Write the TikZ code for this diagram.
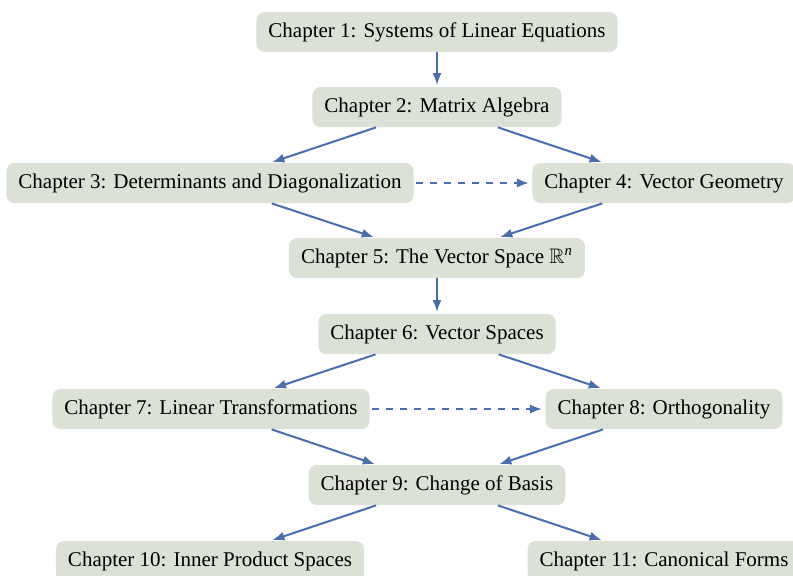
\documentclass[tikz,border=0pt]{standalone}
\usepackage{amsmath}
\usepackage{amssymb}
\usepackage{xcolor}
\usepackage{fontspec}
\setmainfont{Liberation Serif}
\usetikzlibrary{arrows.meta}
\definecolor{chapterfill}{HTML}{DCE1D6}
\definecolor{linkaccent}{HTML}{4A6EAD}
\tikzset{
  chapter/.style={
    rectangle,
    rounded corners=4pt,
    minimum height=20pt,
    inner xsep=6pt,
    inner ysep=0pt,
    fill=chapterfill,
    font=\fontsize{10.5}{12.6}\selectfont,
  },
  link/.style={
    -{Latex[length=6pt,width=4.6pt]},
    draw=linkaccent,
    line width=1pt,
    shorten >=0.8pt,
  },
  optional link/.style={
    link,
    dash pattern=on 3.5pt off 3.5pt,
    shorten <=1pt,
    shorten >=1.6pt,
  },
}

\begin{document}
\begin{tikzpicture}[x=0.5pt,y=-0.5pt]
  \useasboundingbox (0,0) rectangle (793,575);

  % Chapters, one row after another.
  \node[chapter] (ch1) at (437, 32) {Chapter 1: Systems of Linear Equations};
  \node[chapter] (ch2) at (437,107) {Chapter 2: Matrix Algebra};
  \node[chapter] (ch3) at (210,183) {Chapter 3: Determinants and Diagonalization};
  \node[chapter] (ch4) at (664,183) {Chapter 4: Vector Geometry};
  \node[chapter] (ch5) at (437,258) {Chapter 5: The Vector Space $\mathbb{R}^{\textit{n}}$};
  \node[chapter] (ch6) at (437,334) {Chapter 6: Vector Spaces};
  \node[chapter] (ch7) at (211,409) {Chapter 7: Linear Transformations};
  \node[chapter] (ch8) at (664,409) {Chapter 8: Orthogonality};
  \node[chapter] (ch9) at (437,485) {Chapter 9: Change of Basis};
  \node[chapter] (ch10) at (210,561) {Chapter 10: Inner Product Spaces};
  \node[chapter] (ch11) at (664,561) {Chapter 11: Canonical Forms};

  % Prerequisites.
  \draw[link] (ch1) -- (ch2);
  \foreach \src/\dst in {ch2/ch3,ch2/ch4,ch3/ch5,ch4/ch5,ch5/ch6,
                         ch6/ch7,ch6/ch8,ch7/ch9,ch8/ch9,ch9/ch10,ch9/ch11}{
    \draw[link] (\src) -- (\dst);
  }

  % Recommended but not required.
  \draw[optional link] (ch3) -- (ch4);
  \draw[optional link] (ch7) -- (ch8);
\end{tikzpicture}
\end{document}
